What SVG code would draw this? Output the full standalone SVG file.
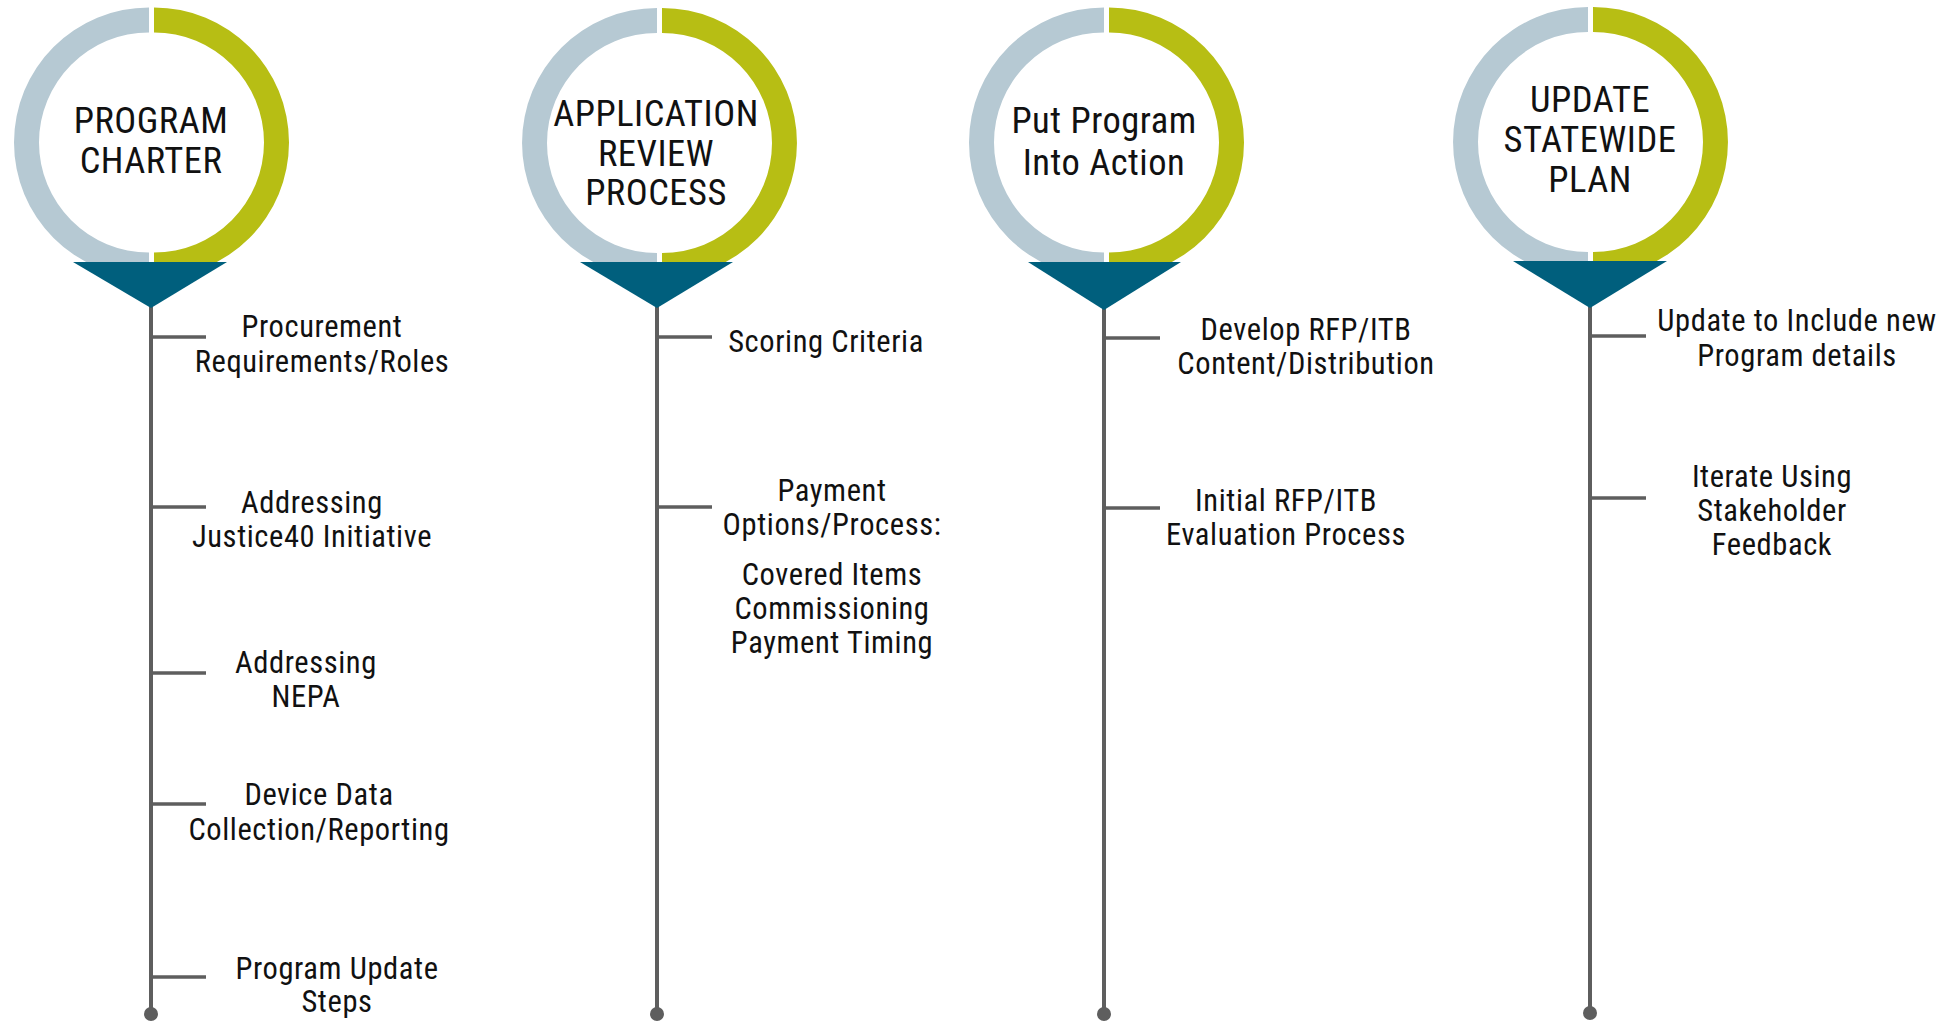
<svg xmlns="http://www.w3.org/2000/svg" width="1954" height="1024" viewBox="0 0 1954 1024">
<style>
.grey{fill:#B6C9D3}
.green{fill:#B7BE14}
.tri{fill:#005F7D}
.line{stroke:#5E5E5E;stroke-width:4;fill:none}
.tick{stroke:#5E5E5E;stroke-width:3.5;fill:none}
.dot{fill:#5E5E5E}
text{font-family:"Roboto Condensed","Roboto",sans-serif;font-stretch:condensed;fill:#111;text-anchor:middle}
.title{font-size:36.5px;letter-spacing:0.5px}
.item{font-size:30.5px;letter-spacing:0.6px}
</style>
<rect width="1954" height="1024" fill="#fff"/>
<g id="connectors">
<line class="line" x1="151" y1="300" x2="151" y2="1012"/>
<line class="tick" x1="151" y1="337" x2="206" y2="337"/>
<line class="tick" x1="151" y1="507" x2="206" y2="507"/>
<line class="tick" x1="151" y1="673" x2="206" y2="673"/>
<line class="tick" x1="151" y1="804" x2="206" y2="804"/>
<line class="tick" x1="151" y1="977" x2="206" y2="977"/>
<circle class="dot" cx="151" cy="1014" r="7"/>
<line class="line" x1="657" y1="300" x2="657" y2="1012"/>
<line class="tick" x1="657" y1="337" x2="712" y2="337"/>
<line class="tick" x1="657" y1="507" x2="712" y2="507"/>
<circle class="dot" cx="657" cy="1014" r="7"/>
<line class="line" x1="1104" y1="300" x2="1104" y2="1012"/>
<line class="tick" x1="1104" y1="338" x2="1160" y2="338"/>
<line class="tick" x1="1104" y1="508" x2="1160" y2="508"/>
<circle class="dot" cx="1104" cy="1014" r="7"/>
<line class="line" x1="1590" y1="300" x2="1590" y2="1012"/>
<line class="tick" x1="1590" y1="336" x2="1646" y2="336"/>
<line class="tick" x1="1590" y1="498" x2="1646" y2="498"/>
<circle class="dot" cx="1590" cy="1013" r="7"/>
</g>
<g id="node-program-charter">
<path class="grey" d="M149 7.5 A135 135 0 0 0 149 277.5 L149 252.5 A110 110 0 0 1 149 32.5 Z"/>
<path class="green" d="M154 7.5 A135 135 0 0 1 154 277.5 L154 252.5 A110 110 0 0 0 154 32.5 Z"/>
<polygon class="tri" points="73,262 227,262 151,308"/>
<text class="title" x="151" y="133">PROGRAM<tspan x="151" y="173">CHARTER</tspan></text>
</g>
<g id="node-application-review">
<path class="grey" d="M657 8 A135 135 0 0 0 657 278 L657 253 A110 110 0 0 1 657 33 Z"/>
<path class="green" d="M662 8 A135 135 0 0 1 662 278 L662 253 A110 110 0 0 0 662 33 Z"/>
<polygon class="tri" points="580,262 733,262 657,308"/>
<text class="title" x="656" y="126">APPLICATION<tspan x="656" y="166">REVIEW</tspan><tspan x="656" y="205">PROCESS</tspan></text>
</g>
<g id="node-put-into-action">
<path class="grey" d="M1104 7.5 A135 135 0 0 0 1104 277.5 L1104 252.5 A110 110 0 0 1 1104 32.5 Z"/>
<path class="green" d="M1109 7.5 A135 135 0 0 1 1109 277.5 L1109 252.5 A110 110 0 0 0 1109 32.5 Z"/>
<polygon class="tri" points="1028,262 1181,262 1104,310"/>
<text class="title" x="1104" y="133">Put Program<tspan x="1104" y="175">Into Action</tspan></text>
</g>
<g id="node-update-statewide">
<path class="grey" d="M1588 7 A135 135 0 0 0 1588 277 L1588 252 A110 110 0 0 1 1588 32 Z"/>
<path class="green" d="M1593 7 A135 135 0 0 1 1593 277 L1593 252 A110 110 0 0 0 1593 32 Z"/>
<polygon class="tri" points="1513,261 1667,261 1590,308"/>
<text class="title" x="1590" y="112">UPDATE<tspan x="1590" y="152">STATEWIDE</tspan><tspan x="1590" y="192">PLAN</tspan></text>
</g>
<g id="item-procurement"><text class="item" x="322" y="337">Procurement<tspan x="322" y="372">Requirements/Roles</tspan></text></g>
<g id="item-justice40"><text class="item" x="312" y="513">Addressing<tspan x="312" y="547">Justice40 Initiative</tspan></text></g>
<g id="item-nepa"><text class="item" x="306" y="673">Addressing<tspan x="306" y="707">NEPA</tspan></text></g>
<g id="item-device-data"><text class="item" x="319" y="805">Device Data<tspan x="319" y="840">Collection/Reporting</tspan></text></g>
<g id="item-program-update"><text class="item" x="337" y="979">Program Update<tspan x="337" y="1012">Steps</tspan></text></g>
<g id="item-scoring"><text class="item" x="826" y="352">Scoring Criteria</text></g>
<g id="item-payment"><text class="item" x="832" y="501">Payment<tspan x="832" y="535">Options/Process:</tspan><tspan x="832" y="585">Covered Items</tspan><tspan x="832" y="619">Commissioning</tspan><tspan x="832" y="653">Payment Timing</tspan></text></g>
<g id="item-develop-rfp"><text class="item" x="1306" y="340">Develop RFP/ITB<tspan x="1306" y="374">Content/Distribution</tspan></text></g>
<g id="item-initial-rfp"><text class="item" x="1286" y="511">Initial RFP/ITB<tspan x="1286" y="545">Evaluation Process</tspan></text></g>
<g id="item-update-include"><text class="item" x="1797" y="331">Update to Include new<tspan x="1797" y="366">Program details</tspan></text></g>
<g id="item-iterate"><text class="item" x="1772" y="487">Iterate Using<tspan x="1772" y="521">Stakeholder</tspan><tspan x="1772" y="555">Feedback</tspan></text></g>
</svg>
